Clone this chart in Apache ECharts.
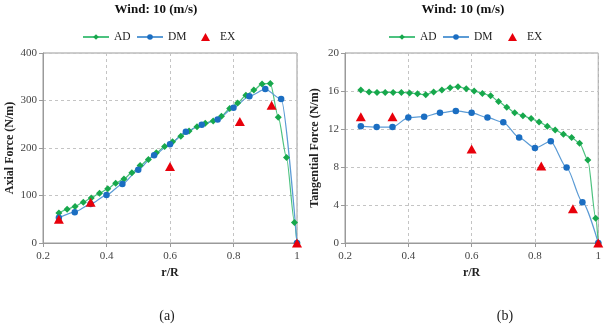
<!DOCTYPE html>
<html>
<head>
<meta charset="utf-8">
<script src="https://cdn.jsdelivr.net/npm/echarts@6/dist/echarts.min.js"></script>
<style>
html,body{margin:0;padding:0;background:#fff;}
#c{width:604px;height:327px;}
</style>
</head>
<body>
<div id="c"></div>
<script>
// r/R positions
const rAD = [0.25,0.276,0.301,0.327,0.352,0.378,0.404,0.429,0.455,0.480,0.506,0.532,0.557,0.583,0.608,0.634,0.660,0.685,0.711,0.736,0.762,0.788,0.813,0.839,0.864,0.890,0.916,0.941,0.967,0.992,1.0];
const rDM = [0.25,0.3,0.35,0.4,0.45,0.5,0.55,0.6,0.65,0.7,0.75,0.8,0.85,0.9,0.95,1.0];
const rEX = [0.25,0.35,0.6,0.82,0.92,1.0];
// (a) Axial force (N/m)
const axialAD = [63,71,77,86,95,105,114,126,135,148,163,176,190,203,213,225,236,245,252,257,267,283,295,311,322,335,336,265,180,43,0];
const axialDM = [53,65,82,101,124,154,185,208,234,249,260,285,309,324,303,0];
const axialEX = [50,86,161,256,290,0];
// (b) Tangential force (N/m)
const tangAD = [16.1,15.9,15.85,15.85,15.85,15.85,15.8,15.7,15.6,15.9,16.1,16.35,16.45,16.25,16.0,15.75,15.5,14.9,14.3,13.7,13.4,13.1,12.75,12.3,11.9,11.45,11.1,10.5,8.75,2.6,0];
const tangDM = [12.3,12.2,12.2,13.2,13.3,13.7,13.9,13.7,13.2,12.7,11.1,10.0,10.7,7.95,4.3,0];
const tangEX = [13.3,13.3,9.9,8.1,3.6,0];
// axis labels / text
const xTicks = [0.2,0.4,0.6,0.8,1];
const titleText = 'Wind: 10 (m/s)';
const yNames = ['Axial Force (N/m)','Tangential Force (N/m)'];
const xName = 'r/R';
const captions = ['(a)','(b)'];

const SERIF = '"Liberation Serif","Times New Roman",serif';
const pair = (xs, ys) => xs.map((x,i)=>[x, ys[i]]);

const GREEN_M = '#17a84c', GREEN_L = '#4cc27f';
const BLUE_M = '#1b6ec2', BLUE_L = '#5b9bd5';
const RED = '#e8000b';

function xAxis(gi){
  return {
    type:'value', gridIndex:gi, min:0.2, max:1, interval:0.2,
    name:xName, nameLocation:'middle', nameGap:24,
    nameTextStyle:{fontFamily:SERIF, fontWeight:'bold', fontSize:12, color:'#222'},
    axisLine:{show:true, lineStyle:{color:'#9a9a9a'}},
    axisTick:{show:true, length:4, lineStyle:{color:'#9a9a9a'}},
    axisLabel:{fontFamily:SERIF, fontSize:11, color:'#444', margin:8,
      formatter:v=>String(+v.toFixed(1))},
    splitLine:{show:true, lineStyle:{color:'#c4c4c4', type:[3,3]}}
  };
}
function yAxis(gi, max, step, name, gap){
  return {
    type:'value', gridIndex:gi, min:0, max:max, interval:step,
    name:name, nameLocation:'middle', nameGap:gap, nameRotate:90,
    nameTextStyle:{fontFamily:SERIF, fontWeight:'bold', fontSize:12, color:'#222'},
    axisLine:{show:true, lineStyle:{color:'#9a9a9a'}},
    axisTick:{show:true, length:4, lineStyle:{color:'#9a9a9a'}},
    axisLabel:{fontFamily:SERIF, fontSize:11, color:'#444', margin:6},
    splitLine:{show:true, lineStyle:{color:'#c4c4c4', type:[3,3]}}
  };
}
function lineSeries(name, gi, data, mColor, lColor, sym, size){
  return {
    name, type:'line', xAxisIndex:gi, yAxisIndex:gi, data,
    smooth:0.25, smoothMonotone:'x',
    symbol:sym, symbolSize:size, showSymbol:true,
    itemStyle:{color:mColor}, lineStyle:{color:lColor, width:1.2},
    emphasis:{disabled:true}, animation:false
  };
}
function exSeries(gi, data){
  return {
    name:'EX', type:'scatter', xAxisIndex:gi, yAxisIndex:gi, data,
    symbol:'triangle', symbolSize:[10,9], itemStyle:{color:RED, opacity:1},
    z:5, emphasis:{disabled:true}, animation:false
  };
}
function legend(name, left, opts){
  return Object.assign({
    data:[name], left:left, top:31, padding:0, itemGap:0,
    itemWidth:26, itemHeight:7,
    textStyle:{fontFamily:SERIF, fontSize:11.5, color:'#222'},
    selectedMode:false
  }, opts||{});
}

const chart = echarts.init(document.getElementById('c'), null, {renderer:'canvas'});
chart.setOption({
  backgroundColor:'#fff',
  animation:false,
  grid:[
    {left:43, top:53, width:254, height:190, show:true, borderColor:'#9a9a9a', borderWidth:1},
    {left:345, top:53, width:257, height:190, show:true, borderColor:'#9a9a9a', borderWidth:1}
  ],
  xAxis:[xAxis(0), xAxis(1)],
  yAxis:[yAxis(0,400,100,yNames[0],27), yAxis(1,20,4,yNames[1],24)],
  legend:[
    legend('AD', 82), legend('DM', 136),
    legend('EX', 201, {itemWidth:9, itemHeight:8, icon:'triangle', textStyle:{fontFamily:SERIF, fontSize:11.5, color:'#222', padding:[0,0,0,5]}}),
    legend('AD', 388), legend('DM', 442),
    legend('EX', 508, {itemWidth:9, itemHeight:8, icon:'triangle', textStyle:{fontFamily:SERIF, fontSize:11.5, color:'#222', padding:[0,0,0,5]}})
  ],
  graphic:[
    {type:'text', x:156, y:10, style:{text:titleText, align:'center', verticalAlign:'middle', font:'bold 13px '+SERIF, fill:'#111'}},
    {type:'text', x:463, y:10, style:{text:titleText, align:'center', verticalAlign:'middle', font:'bold 13px '+SERIF, fill:'#111'}},
    {type:'text', x:167, y:316, style:{text:captions[0], align:'center', verticalAlign:'middle', font:'14px '+SERIF, fill:'#222'}},
    {type:'text', x:505, y:316, style:{text:captions[1], align:'center', verticalAlign:'middle', font:'14px '+SERIF, fill:'#222'}}
  ],
  series:[
    lineSeries('AD',0,pair(rAD,axialAD),GREEN_M,GREEN_L,'diamond',7),
    lineSeries('DM',0,pair(rDM,axialDM),BLUE_M,BLUE_L,'circle',6.5),
    exSeries(0,pair(rEX,axialEX)),
    lineSeries('AD',1,pair(rAD,tangAD),GREEN_M,GREEN_L,'diamond',7),
    lineSeries('DM',1,pair(rDM,tangDM),BLUE_M,BLUE_L,'circle',6.5),
    exSeries(1,pair(rEX,tangEX))
  ]
});
</script>
</body>
</html>
